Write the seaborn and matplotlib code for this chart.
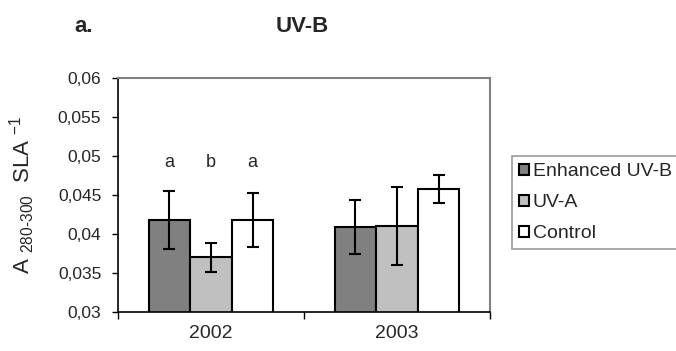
import matplotlib
matplotlib.use("Agg")
import matplotlib.pyplot as plt
import seaborn as sns
import pandas as pd

# --- data ---------------------------------------------------------------
years = ["2002", "2003"]
treatments = ["Enhanced UV-B", "UV-A", "Control"]
enhanced_uvb = [0.0418, 0.0409]
uva = [0.0370, 0.0410]
control = [0.0418, 0.0458]
enhanced_uvb_err = [0.0037, 0.0035]
uva_err = [0.0019, 0.0050]
control_err = [0.0035, 0.0018]
letters_2002 = ["a", "b", "a"]
letter_height = 0.0492
y_ticks = [0.03, 0.035, 0.04, 0.045, 0.05, 0.055, 0.06]
y_tick_labels = ["0,03", "0,035", "0,04", "0,045", "0,05", "0,055", "0,06"]

colors = ["#808080", "#c0c0c0", "#ffffff"]

# --- long table for seaborn ---------------------------------------------
values = [enhanced_uvb, uva, control]
errors = [enhanced_uvb_err, uva_err, control_err]
rows = []
for t, vals, errs in zip(treatments, values, errors):
    for y, v, e in zip(years, vals, errs):
        rows.append({"year": y, "treatment": t, "value": v, "err": e})
df = pd.DataFrame(rows)

sns.set_style("white")
plt.rcParams["font.family"] = ["Liberation Sans", "DejaVu Sans"]
plt.rcParams["mathtext.fontset"] = "custom"
plt.rcParams["mathtext.rm"] = "Liberation Sans"
plt.rcParams["mathtext.it"] = "Liberation Sans"

fig = plt.figure(figsize=(6.76, 3.51), dpi=100)
ax = fig.add_axes([118 / 676, 39 / 351, 372 / 676, 234 / 351])

sns.barplot(data=df, x="year", y="value", hue="treatment", order=years,
            hue_order=treatments, palette=colors, errorbar=None,
            width=0.67, edgecolor="black", linewidth=1.5, saturation=1,
            legend=True, ax=ax)

# error bars at the centre of every drawn bar
for cont, t in zip(ax.containers, treatments):
    sub = df[df["treatment"] == t].set_index("year").loc[years]
    xs = [p.get_x() + p.get_width() / 2 for p in cont.patches]
    hs = [p.get_height() for p in cont.patches]
    ax.errorbar(xs, hs, yerr=sub["err"].values, fmt="none", ecolor="black",
                elinewidth=1.5, capsize=4.5, capthick=1.5, zorder=5)

# significance letters above the 2002 bars
for cont, lt in zip(ax.containers, letters_2002):
    p = cont.patches[0]
    ax.text(p.get_x() + p.get_width() / 2, letter_height, lt,
            ha="center", va="center", fontsize=13)

ax.set_ylim(0.03, 0.06)
ax.set_xlim(-0.5, 1.5)
ax.set_yticks(y_ticks)
ax.set_yticklabels(y_tick_labels, fontsize=12.5)
ax.tick_params(axis="y", direction="out", length=4, width=1, color="black",
               left=True, pad=8)
ax.tick_params(axis="x", which="major", length=0, labelsize=14, pad=9)
ax.set_xticks([-0.5, 0.5, 1.5], minor=True)
ax.tick_params(axis="x", which="minor", direction="out", length=5, width=1,
               color="black", bottom=True)
ax.set_xlabel("")
ax.set_ylabel(r"A $_{\mathrm{280\text{-}300}}$  SLA $^{\mathrm{-1}}$",
              fontsize=16)
ax.yaxis.set_label_coords((37 - 118) / 372, (312 - 195) / 234)

for side in ["left", "bottom"]:
    ax.spines[side].set_color("black")
    ax.spines[side].set_linewidth(1.2)
for side in ["top", "right"]:
    ax.spines[side].set_visible(True)
    ax.spines[side].set_color("#808080")
    ax.spines[side].set_linewidth(1.5)

ax.get_legend().remove()
handles = [plt.Rectangle((0, 0), 1, 1, facecolor=c, edgecolor="black",
                         linewidth=1.5) for c in colors]
leg = fig.legend(handles, treatments, loc="upper left",
                 bbox_to_anchor=(512 / 676, 1 - 156 / 351), fontsize=14,
                 frameon=True, fancybox=False, edgecolor="#808080",
                 handlelength=0.5, handleheight=0.5, handletextpad=0.2,
                 labelspacing=0.72, borderpad=0.36, borderaxespad=0)
leg.get_frame().set_linewidth(1.2)

fig.text(84 / 676, 1 - 26 / 351, "a.", fontsize=16, fontweight="bold",
         ha="center", va="center")
fig.text(302 / 676, 1 - 26 / 351, "UV-B", fontsize=16, fontweight="bold",
         ha="center", va="center")

fig.savefig("out.png", dpi=100)
